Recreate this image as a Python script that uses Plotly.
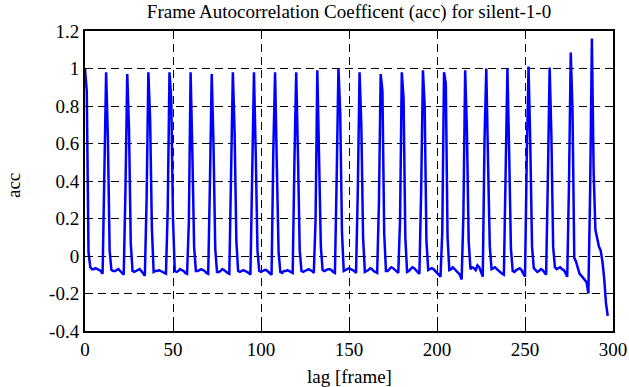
import plotly.graph_objects as go

# ---- data ----
# acc values per lag frame, one row per 12-frame period (row starts at the peak lag)
acc_rows = [
    [1.00, 0.88, 0.02, -0.06, -0.07, -0.07, -0.065, -0.07, -0.075, -0.08, -0.095, 0.42],      # 0
    [0.98, 0.63, 0.03, -0.075, -0.08, -0.08, -0.075, -0.07, -0.08, -0.09, -0.10, 0.36],       # 12
    [0.97, 0.68, 0.07, -0.08, -0.085, -0.08, -0.075, -0.07, -0.08, -0.09, -0.105, 0.30],      # 24
    [0.98, 0.73, 0.15, -0.085, -0.08, -0.08, -0.075, -0.08, -0.085, -0.09, -0.095, 0.25],     # 36
    [0.98, 0.84, 0.20, -0.08, -0.085, -0.08, -0.07, -0.075, -0.08, -0.09, -0.095, 0.18],      # 48
    [0.98, 0.55, 0.05, -0.08, -0.08, -0.075, -0.07, -0.075, -0.08, -0.09, -0.095, 0.40],      # 60
    [0.97, 0.60, 0.04, -0.085, -0.085, -0.08, -0.07, -0.075, -0.085, -0.09, -0.095, 0.35],    # 72
    [0.98, 0.66, 0.08, -0.08, -0.085, -0.08, -0.075, -0.08, -0.085, -0.09, -0.10, 0.45],      # 84
    [0.98, 0.55, 0.03, -0.08, -0.085, -0.08, -0.075, -0.075, -0.085, -0.09, -0.10, 0.56],     # 96
    [0.98, 0.48, 0.02, -0.085, -0.09, -0.08, -0.08, -0.075, -0.08, -0.085, -0.09, 0.51],      # 108
    [0.98, 0.54, 0.03, -0.08, -0.085, -0.08, -0.075, -0.07, -0.075, -0.08, -0.09, 0.19],      # 120
    [0.99, 0.58, 0.05, -0.075, -0.08, -0.075, -0.07, -0.07, -0.075, -0.085, -0.09, 0.42],     # 132
    [1.00, 0.77, 0.13, -0.08, -0.075, -0.07, -0.065, -0.07, -0.075, -0.08, -0.09, 0.35],      # 144
    [0.98, 0.70, 0.10, -0.085, -0.08, -0.075, -0.065, -0.07, -0.08, -0.085, -0.09, 0.28],     # 156
    [0.97, 0.88, 0.12, -0.08, -0.08, -0.07, -0.06, -0.065, -0.075, -0.085, -0.09, 0.19],      # 168
    [0.98, 0.84, 0.10, -0.085, -0.08, -0.07, -0.06, -0.065, -0.075, -0.085, -0.095, 0.35],    # 180
    [0.99, 0.80, 0.08, -0.075, -0.07, -0.065, -0.07, -0.08, -0.09, -0.105, -0.11, 0.13],      # 192
    [0.98, 0.92, 0.10, -0.075, -0.07, -0.06, -0.07, -0.08, -0.085, -0.10, -0.125, 0.22],      # 204
    [0.99, 0.67, 0.08, -0.07, -0.06, -0.065, -0.075, -0.05, -0.06, -0.09, -0.11, 0.62],       # 216
    [1.00, 0.50, 0.05, -0.07, -0.065, -0.06, -0.07, -0.08, -0.085, -0.095, -0.10, 0.56],      # 228
    [1.00, 0.55, 0.04, -0.08, -0.085, -0.075, -0.07, -0.065, -0.075, -0.09, -0.11, 0.52],     # 240
    [1.01, 0.60, 0.05, -0.065, -0.075, -0.085, -0.08, -0.07, -0.075, -0.085, -0.10, 0.42],    # 252
    [1.005, 0.64, 0.05, -0.06, -0.07, -0.065, -0.06, -0.07, -0.075, -0.09, -0.11, 0.39],      # 264
    [1.085, 0.77, -0.01, -0.03, -0.07, -0.095, -0.105, -0.115, -0.13, -0.14, -0.20, 0.34],    # 276
    [1.16, 0.45, 0.14, 0.10, 0.05, 0.03, -0.03, -0.12, -0.25, -0.32],                         # 288
]
acc = [v for row in acc_rows for v in row]
lags = list(range(len(acc)))

x_ticks = [0, 50, 100, 150, 200, 250, 300]
x_ticktext = ["0", "50", "100", "150", "200", "250", "300"]
y_ticks = [-0.4, -0.2, 0, 0.2, 0.4, 0.6, 0.8, 1, 1.2]
y_ticktext = ["-0.4", "-0.2", "0", "0.2", "0.4", "0.6", "0.8", "1", "1.2"]

title_text = "Frame Autocorrelation Coefficent (acc) for silent-1-0"
x_label = "lag [frame]"
y_label = "acc"

FONT = "Liberation Serif"
FS = 19

fig = go.Figure(
    go.Scatter(x=lags, y=acc, mode="lines",
               line=dict(color="#0000FF", width=2.5), showlegend=False)
)

axis_common = dict(
    ticks="inside", ticklen=6, tickwidth=1, tickcolor="black",
    showline=True, linewidth=2, linecolor="black", mirror="allticks",
    showgrid=True, gridcolor="black", gridwidth=1, griddash="8px,5px",
    zeroline=False, automargin=False,
    tickfont=dict(family=FONT, size=FS, color="black"),
)

fig.update_xaxes(range=[0, 300], tickvals=x_ticks, ticktext=x_ticktext, **axis_common)
fig.update_yaxes(range=[-0.4, 1.2], tickvals=y_ticks, ticktext=y_ticktext, **axis_common)

fig.update_layout(
    template="none",
    width=629, height=387,
    margin=dict(l=85, r=16, t=31, b=56, autoexpand=False),
    plot_bgcolor="white", paper_bgcolor="white",
    font=dict(family=FONT, size=FS, color="black"),
    title=dict(text=title_text, x=0.5, xref="paper", xanchor="center",
               y=1 - 11 / 387, yref="container", yanchor="middle",
               font=dict(family=FONT, size=FS, color="black")),
    annotations=[
        dict(text=x_label, xref="paper", yref="paper", x=0.5, y=-45 / 300,
             xanchor="center", yanchor="middle", showarrow=False,
             font=dict(family=FONT, size=FS, color="black")),
        dict(text=y_label, xref="paper", yref="paper", x=(14 - 85) / 528, y=(331 - 186) / 300,
             xanchor="center", yanchor="middle", showarrow=False, textangle=-90,
             font=dict(family=FONT, size=FS, color="black")),
    ],
)

fig.write_html("out.html",
               config={"displayModeBar": False, "staticPlot": True},
               post_script="document.body.style.margin='0';document.body.style.overflow='hidden';")
